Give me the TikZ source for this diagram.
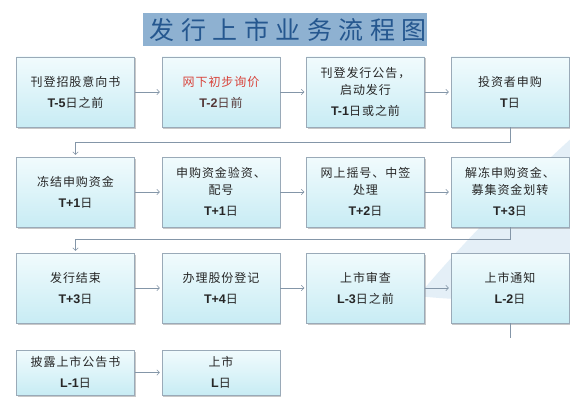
\documentclass[tikz,border=0pt]{standalone}
\usepackage{fontspec}
\usetikzlibrary{arrows.meta,shadows,calc}
\newfontfamily\cjk[LetterSpace=8]{Noto Sans CJK SC}
\newfontfamily\cjktitle[LetterSpace=26]{Noto Sans CJK SC}
\newfontfamily\latb{Liberation Sans}
\definecolor{boxtop}{HTML}{F1FBFD}
\definecolor{boxbot}{HTML}{C8ECF4}
\definecolor{boxline}{HTML}{9AAAB8}
\definecolor{txt}{HTML}{262626}
\definecolor{redtxt}{HTML}{D8433B}
\definecolor{darkred}{HTML}{553838}
\definecolor{connc}{HTML}{8496A8}
\definecolor{titlefill}{HTML}{8EB1D1}
\definecolor{titletxt}{HTML}{25578F}
\definecolor{swooshc}{HTML}{D3E5F3}
\newcommand\dline[2]{{\latb\bfseries\fontsize{12.5}{17}\selectfont #1}#2}
\tikzset{
  box/.style={draw=boxline, line width=0.5pt, top color=boxtop, bottom color=boxbot,
    minimum width=118pt, minimum height=70pt, inner sep=2pt, align=center,
    font=\cjk\fontsize{12}{17}\selectfont, text=txt,
    drop shadow={shadow xshift=1pt, shadow yshift=-1.5pt, opacity=0.3, fill=black!70}},
  lowbox/.style={box, minimum height=45pt},
  titlebox/.style={fill=titlefill, minimum width=284pt, minimum height=33pt, inner sep=0pt,
    text=titletxt, font=\cjktitle\fontsize{25}{25}\selectfont},
  conn/.style={draw=connc, line width=0.6pt, -{Straight Barb[length=2.5pt,width=5.5pt]}, shorten >=2pt},
  stubline/.style={draw=connc, line width=0.6pt},
  swoosh/.style={fill=swooshc, opacity=0.6}
}
\begin{document}
\begin{tikzpicture}[x=1pt,y=-1pt]
\useasboundingbox (0,0) rectangle (570,412);
\fill[white] (0,0) rectangle (570,412);
% background swoosh
\fill[swoosh] (575,135) .. controls (520,185) and (465,240) .. (418,296)
  .. controls (470,302) and (525,300) .. (575,292) -- cycle;
% title
\node[titlebox] (title) at (285,29.5) {\hspace*{6.5pt}发行上市业务流程图};
% row 1
\node[box] (b1) at (75.5,92) {刊登招股意向书\\[4pt]\dline{T-5}{日之前}};
\node[box] (b2) at (221,92) {\textcolor{redtxt}{网下初步询价}\\[4pt]\textcolor{darkred}{\dline{T-2}{日前}}};
\node[box] (b3) at (365.5,92) {刊登发行公告，\\启动发行\\[4pt]\dline{T-1}{日或之前}};
\node[box] (b4) at (510,92) {投资者申购\\[4pt]\dline{T}{日}};
% row 2
\node[box] (b5) at (75.5,192) {冻结申购资金\\[4pt]\dline{T+1}{日}};
\node[box] (b6) at (221,192) {申购资金验资、\\配号\\[4pt]\dline{T+1}{日}};
\node[box] (b7) at (365.5,192) {网上摇号、中签\\处理\\[4pt]\dline{T+2}{日}};
\node[box] (b8) at (510,192) {解冻申购资金、\\募集资金划转\\[4pt]\dline{T+3}{日}};
% row 3
\node[box] (b9) at (75.5,288) {发行结束\\[4pt]\dline{T+3}{日}};
\node[box] (b10) at (221,288) {办理股份登记\\[4pt]\dline{T+4}{日}};
\node[box] (b11) at (365.5,288) {上市审查\\[4pt]\dline{L-3}{日之前}};
\node[box] (b12) at (510,288) {上市通知\\[4pt]\dline{L-2}{日}};
% row 4
\node[lowbox] (b13) at (75.5,372.5) {披露上市公告书\\[4pt]\dline{L-1}{日}};
\node[lowbox] (b14) at (221,372.5) {上市\\[4pt]\dline{L}{日}};
% connectors
\draw[conn] (b1) -- (b2);
\draw[conn] (b2) -- (b3);
\draw[conn] (b3) -- (b4);
\draw[conn] (b4.south) -- ++(0,15) -| (b5.north);
\draw[conn] (b5) -- (b6);
\draw[conn] (b6) -- (b7);
\draw[conn] (b7) -- (b8);
\draw[conn] (b8.south) -- ++(0,12) -| (b9.north);
\draw[conn] (b9) -- (b10);
\draw[conn] (b10) -- (b11);
\draw[conn] (b11) -- (b12);
\coordinate (stub) at (510,338);
\draw[stubline] (b12.south) -- (stub);
\draw[conn] (b13) -- (b14);
\end{tikzpicture}
\end{document}
